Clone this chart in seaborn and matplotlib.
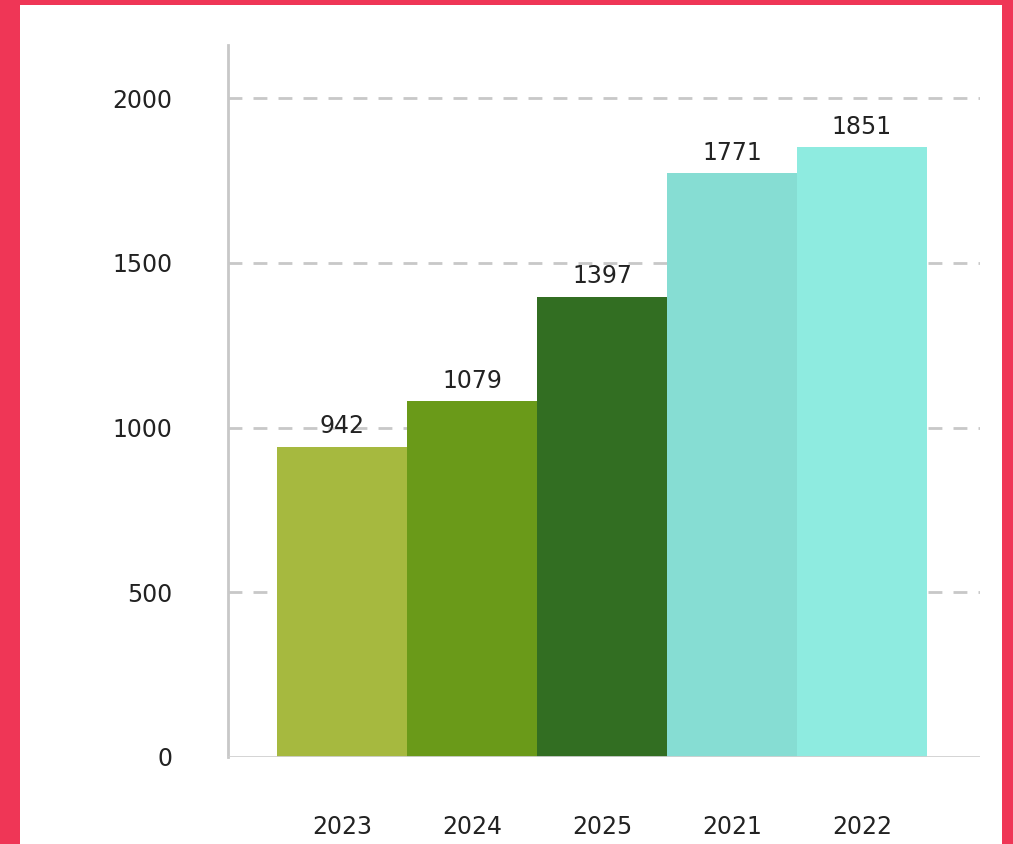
import matplotlib
matplotlib.use("Agg")
import matplotlib.pyplot as plt
import seaborn as sns
from matplotlib.patches import Rectangle

years = ["2023", "2024", "2025", "2021", "2022"]
values = [942, 1079, 1397, 1771, 1851]
colors = ["#a6b93f", "#6a9a19", "#326e22", "#86ddd3", "#8eebe0"]
yticks = [0, 500, 1000, 1500, 2000]

sns.set_theme(style="white")
plt.rcParams["font.family"] = ["DejaVu Sans"]

fig = plt.figure(figsize=(10.13, 8.44), dpi=100)
fig.patch.set_facecolor("#ef3656")
fig.add_artist(Rectangle((20 / 1013, 0), (1002 - 20) / 1013, (844 - 5) / 844,
                         transform=fig.transFigure, facecolor="white",
                         edgecolor="none", zorder=0))

ax = fig.add_axes([228 / 1013, 87 / 844, (980 - 228) / 1013, (757 - 45) / 844])
ax.set_facecolor("none")

sns.barplot(x=years, y=values, hue=years, palette=colors, order=years,
            hue_order=years, legend=False, width=1.0, dodge=False,
            saturation=1, linewidth=0, ax=ax, zorder=3)

for c in ax.containers:
    ax.bar_label(c, fmt="%d", padding=6, fontsize=17, color="#222222")

ax.set_ylim(0, 2161)
ax.set_xlim(-0.877, 4.908)
ax.set_yticks(yticks)
ax.set_yticklabels([str(v) for v in yticks])
for v in yticks[1:]:
    ax.axhline(v, color="#c8c8c8", linestyle=(0, (5, 4)), linewidth=2, zorder=1)
ax.axhline(0, color="#d0d0d0", linewidth=2, zorder=4)

for s in ["top", "right", "bottom"]:
    ax.spines[s].set_visible(False)
ax.spines["left"].set_color("#c8c8c8")
ax.spines["left"].set_linewidth(2)

ax.tick_params(axis="y", length=0, pad=40, labelsize=17, labelcolor="#222222")
ax.tick_params(axis="x", length=0, pad=42, labelsize=17, labelcolor="#222222")
ax.set_xlabel("")
ax.set_ylabel("")

fig.savefig("out.png", dpi=100, facecolor=fig.get_facecolor())
